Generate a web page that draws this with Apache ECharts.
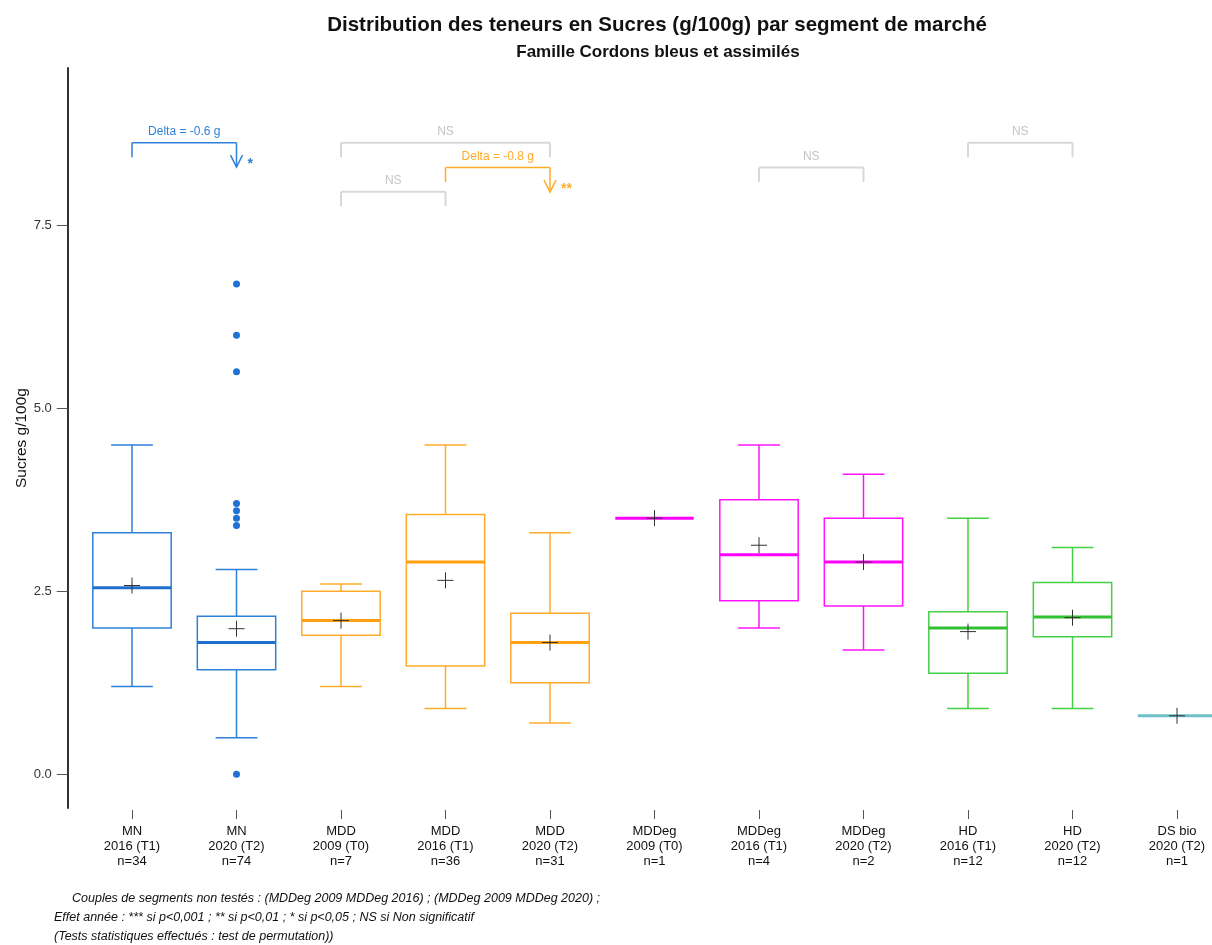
<!DOCTYPE html>
<html>
<head>
<meta charset="utf-8">
<script src="https://cdn.jsdelivr.net/npm/echarts@6/dist/echarts.min.js"></script>
<style>
  html, body { margin: 0; padding: 0; background: #fff; }
  #chart { width: 1212px; height: 945px; }
</style>
</head>
<body>
<div id="chart"></div>
<script>
// categories
const segments = ['MN', 'MN', 'MDD', 'MDD', 'MDD', 'MDDeg', 'MDDeg', 'MDDeg', 'HD', 'HD', 'DS bio']
const years = ['2016 (T1)', '2020 (T2)', '2009 (T0)', '2016 (T1)', '2020 (T2)', '2009 (T0)', '2016 (T1)', '2020 (T2)', '2016 (T1)', '2020 (T2)', '2020 (T2)']
const counts = [34, 74, 7, 36, 31, 1, 4, 2, 12, 12, 1]

// box statistics (g/100g)
const whiskerLow = [1.2, 0.5, 1.2, 0.9, 0.7, 3.5, 2.0, 1.7, 0.9, 0.9, 0.8]
const q1 = [2.0, 1.43, 1.9, 1.48, 1.25, 3.5, 2.37, 2.3, 1.38, 1.88, 0.8]
const medians = [2.55, 1.8, 2.1, 2.9, 1.8, 3.5, 3.0, 2.9, 2.0, 2.15, 0.8]
const q3 = [3.3, 2.16, 2.5, 3.55, 2.2, 3.5, 3.75, 3.5, 2.22, 2.62, 0.8]
const whiskerHigh = [4.5, 2.8, 2.6, 4.5, 3.3, 3.5, 4.5, 4.1, 3.5, 3.1, 0.8]
const means = [2.58, 1.99, 2.1, 2.65, 1.8, 3.5, 3.13, 2.9, 1.95, 2.14, 0.8]

// outliers: [category index, value]
const outliers = [[1, 6.7], [1, 6.0], [1, 5.5], [1, 3.7], [1, 3.6], [1, 3.5], [1, 3.4], [1, 0.0]]

// comparisons between years
const bracketFrom = [0, 2, 3, 2, 6, 8]
const bracketTo = [1, 4, 4, 3, 7, 9]
const bracketLevel = [8.63, 8.63, 8.29, 7.96, 8.29, 8.63]
const bracketLabel = ['Delta = -0.6 g', 'NS', 'Delta = -0.8 g', 'NS', 'NS', 'NS']
const bracketSignif = ['*', '', '**', '', '', '']

const yTicks = [0, 2.5, 5, 7.5]

const segColor = { MN: '#2f80d8', MDD: '#ffac2a', MDDeg: '#ff14ff', HD: '#44d044', 'DS bio': '#74c6ca' }
const segMedian = { MN: '#1f70cc', MDD: '#ffa010', MDDeg: '#ff00ff', HD: '#30c030', 'DS bio': '#6cc0c6' }

const categories = segments.map((s, i) => s + '\n' + years[i] + '\nn=' + counts[i])

const chart = echarts.init(document.getElementById('chart'))

function seg(x1, y1, x2, y2, color, w) {
  return { type: 'line', shape: { x1, y1, x2, y2 }, style: { stroke: color, lineWidth: w } }
}

function renderBox(params, api) {
  const i = api.value(0)
  const band = api.size([1, 0])[0]
  const half = band * 0.375
  const cap = band * 0.2
  const x = api.coord([i, 0])[0]
  const y = v => api.coord([i, v])[1]
  const c = segColor[segments[i]]
  const m = segMedian[segments[i]]
  const lo = y(api.value(1)), b1 = y(api.value(2)), md = y(api.value(3)), b3 = y(api.value(4)), hi = y(api.value(5))
  const kids = []
  if (hi !== b3) kids.push(seg(x, hi, x, b3, c, 1.5), seg(x - cap, hi, x + cap, hi, c, 1.5))
  if (lo !== b1) kids.push(seg(x, b1, x, lo, c, 1.5), seg(x - cap, lo, x + cap, lo, c, 1.5))
  if (b1 !== b3) {
    kids.push({ type: 'rect', shape: { x: x - half, y: b3, width: half * 2, height: b1 - b3 },
      style: { fill: 'none', stroke: c, lineWidth: 1.5 } })
  }
  kids.push(seg(x - half, md, x + half, md, m, 3))
  return { type: 'group', children: kids }
}

function renderMean(params, api) {
  const p = api.coord([api.value(0), api.value(1)])
  return { type: 'group', children: [
    seg(p[0] - 8, p[1], p[0] + 8, p[1], '#333', 1),
    seg(p[0], p[1] - 8, p[0], p[1] + 8, '#333', 1)
  ] }
}

function renderBracket(params, api) {
  const k = params.dataIndex
  const a = api.coord([api.value(0), api.value(2)])
  const b = api.coord([api.value(1), api.value(2)])
  const sig = bracketSignif[k]
  const col = sig ? segColor[segments[bracketFrom[k]]] : '#d8d8d8'
  const txt = sig ? col : '#c4c4c4'
  const top = a[1]
  const kids = [seg(a[0], top, b[0], top, col, sig ? 1.5 : 2), seg(a[0], top, a[0], top + 14.5, col, sig ? 1.5 : 2)]
  if (sig) {
    const tip = top + 24.5
    kids.push(seg(b[0], top, b[0], tip, col, 1.5))
    kids.push({ type: 'polyline', shape: { points: [[b[0] - 6, tip - 12], [b[0], tip], [b[0] + 6, tip - 12]] },
      style: { stroke: col, lineWidth: 1.5, fill: 'none' } })
    kids.push({ type: 'text', style: { text: sig, x: b[0] + 11, y: tip - 3, fill: col,
      font: 'bold 14px "Liberation Sans", Arial, sans-serif', align: 'left', verticalAlign: 'middle' } })
  } else {
    kids.push(seg(b[0], top, b[0], top + 14.5, col, 2))
  }
  kids.push({ type: 'text', style: { text: bracketLabel[k], x: (a[0] + b[0]) / 2, y: top - 11, fill: txt,
    font: '12px "Liberation Sans", Arial, sans-serif', align: 'center', verticalAlign: 'middle' } })
  return { type: 'group', children: kids }
}

const font = '"Liberation Sans", Arial, sans-serif'
const noteFont = 'italic 12.5px "Liberation Sans", Arial, sans-serif'

chart.setOption({
  animation: false,
  backgroundColor: '#fff',
  title: [
    { text: 'Distribution des teneurs en Sucres (g/100g) par segment de marché', left: 652, top: 10, textAlign: 'center',
      textStyle: { fontFamily: font, fontSize: 20.5, fontWeight: 'bold', color: '#111' } },
    { text: 'Famille Cordons bleus et assimilés', left: 653, top: 39, textAlign: 'center',
      textStyle: { fontFamily: font, fontSize: 17, fontWeight: 'bold', color: '#111' } }
  ],
  grid: { left: 79.75, right: -17.25, top: 68, bottom: 137, outerBoundsMode: 'none' },
  xAxis: {
    type: 'category',
    data: categories,
    boundaryGap: true,
    offset: 2,
    axisLine: { show: false, onZero: false },
    axisTick: { show: true, alignWithLabel: true, length: 9, lineStyle: { color: '#555', width: 1 } },
    axisLabel: { color: '#111', fontFamily: font, fontSize: 13, lineHeight: 15, margin: 14, interval: 0 },
    splitLine: { show: false }
  },
  yAxis: {
    type: 'value',
    min: -0.46,
    max: 9.65,
    offset: 12,
    name: 'Sucres g/100g',
    nameLocation: 'middle',
    nameGap: 38,
    nameMoveOverlap: false,
    nameTextStyle: { fontFamily: font, fontSize: 15.5, color: '#111' },
    axisLine: { show: true, lineStyle: { color: '#333', width: 2 } },
    axisTick: { show: true, length: 11, customValues: yTicks, lineStyle: { color: '#555', width: 1 } },
    axisLabel: { customValues: yTicks, formatter: v => v.toFixed(1), color: '#333', fontFamily: font, fontSize: 13, margin: 16 },
    splitLine: { show: false }
  },
  series: [
    {
      type: 'custom',
      name: 'boxes',
      renderItem: renderBox,
      encode: { x: 0, y: [1, 2, 3, 4, 5] },
      data: categories.map((c, i) => [i, whiskerLow[i], q1[i], medians[i], q3[i], whiskerHigh[i]]),
      z: 2
    },
    {
      type: 'scatter',
      name: 'outliers',
      symbol: 'circle',
      symbolSize: 7,
      itemStyle: { color: '#1f72d2', opacity: 1 },
      data: outliers,
      z: 3
    },
    {
      type: 'custom',
      name: 'means',
      renderItem: renderMean,
      encode: { x: 0, y: 1 },
      data: means.map((v, i) => [i, v]),
      z: 4
    },
    {
      type: 'custom',
      name: 'brackets',
      renderItem: renderBracket,
      encode: { x: [0, 1], y: 2 },
      data: bracketFrom.map((f, k) => [f, bracketTo[k], bracketLevel[k]]),
      z: 5
    }
  ],
  graphic: [
    { type: 'text', left: 72, top: 892, style: { text: 'Couples de segments non testés : (MDDeg 2009 MDDeg 2016) ; (MDDeg 2009 MDDeg 2020) ;',
      font: noteFont, fill: '#111' } },
    { type: 'text', left: 54, top: 911, style: { text: 'Effet année : *** si p<0,001 ; ** si p<0,01 ; * si p<0,05 ; NS si Non significatif',
      font: noteFont, fill: '#111' } },
    { type: 'text', left: 54, top: 930, style: { text: '(Tests statistiques effectués : test de permutation))',
      font: noteFont, fill: '#111' } }
  ]
})
</script>
</body>
</html>
